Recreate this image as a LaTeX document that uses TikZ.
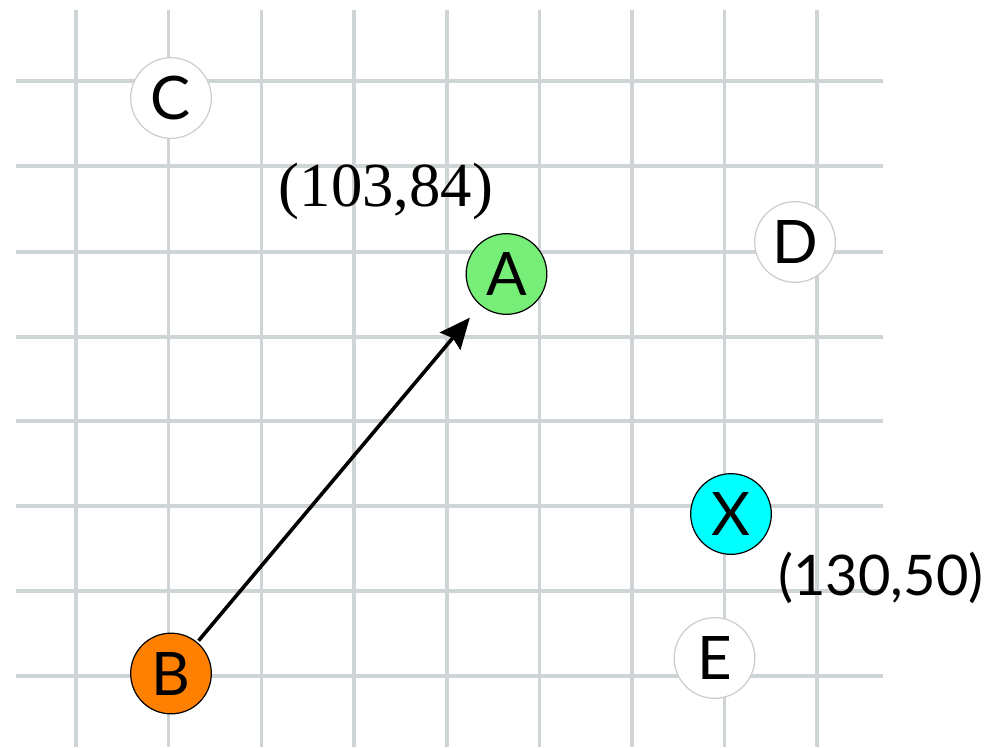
\documentclass[tikz,border=0pt]{standalone}
\usepackage{fontspec}
\setmainfont{Liberation Serif}
\newfontfamily\gillfont{Lato}
\usetikzlibrary{arrows.meta}
\definecolor{gridc}{HTML}{CFD4D7}
\definecolor{agreen}{HTML}{77EE77}
\definecolor{borange}{HTML}{FF8000}
\definecolor{xcyan}{HTML}{00FFFF}
\definecolor{lightring}{HTML}{CCCCCC}
\begin{document}
\begin{tikzpicture}[x=0.75pt,y=-0.75pt,
  gridline/.style={draw=gridc,line width=2.3pt},
  pt/.style={circle,minimum size=60.5pt,inner sep=0pt,
    font=\gillfont\fontsize{45}{45}\selectfont},
  hot/.style={pt,draw=black,line width=0.9pt},
  plain/.style={pt,draw=lightring,fill=white,line width=0.9pt},
  coordlabel/.style={inner sep=0pt},
  arrowline/.style={draw=black,line width=2.7pt,
    -{Stealth[length=23pt,width=20pt,inset=3pt]},shorten <=1.5pt,shorten >=12pt}]
\useasboundingbox (0,0) rectangle (1003,747);
% grid
\foreach \x in {76,168.5,261.5,354,447,539.5,632,724.5,817}
  \draw[gridline] (\x,10) -- (\x,747);
\foreach \y in {81,166,252,337,421,506,591,676}
  \draw[gridline] (16,\y) -- (883,\y);
% nodes
\node[plain] (C) at (171,98) {C};
\node[plain] (D) at (795,242) {D};
\node[plain] (E) at (714.5,658) {E};
\node[hot,fill=agreen] (A) at (506.5,274) {A};
\node[hot,fill=borange] (B) at (171,673.5) {B};
\node[hot,fill=xcyan] (X) at (731,514) {X};
% labels
\node[coordlabel,font=\fontsize{47}{47}\selectfont] (la) at (386,191) {(103,84)};
\node[coordlabel,font=\gillfont\fontsize{42}{42}\selectfont] (lx) at (881,578) {(130,50)};
% arrow
\draw[arrowline] (B) -- (A);
\end{tikzpicture}
\end{document}
